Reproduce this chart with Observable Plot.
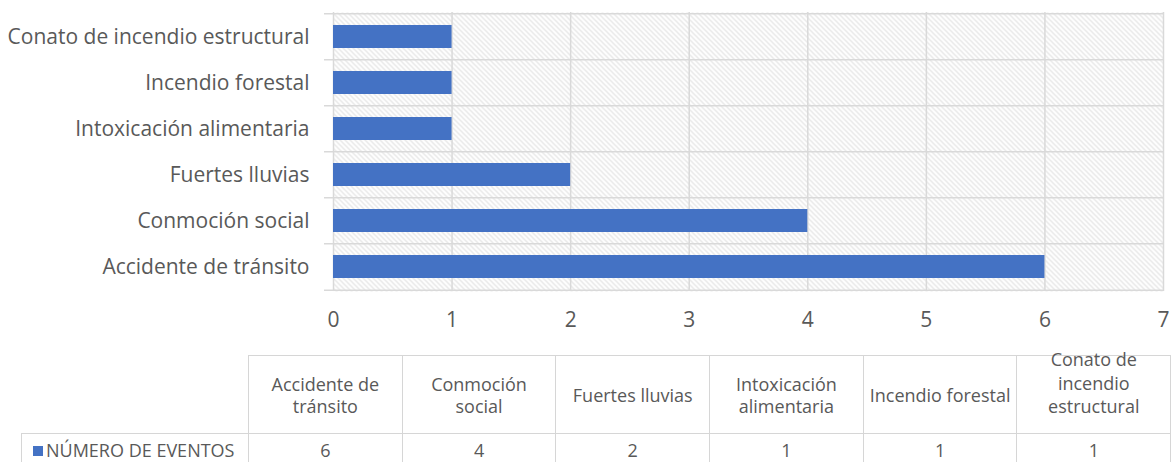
<!DOCTYPE html>
<html><head><meta charset="utf-8">
<script src="https://cdn.jsdelivr.net/npm/d3@7"></script>
<script src="https://cdn.jsdelivr.net/npm/@observablehq/plot@0.6"></script>
<style>
body{margin:0;background:#fff;font-family:"Open Sans",sans-serif;color:#595959}
#wrap{position:relative;width:1173px;height:462px;overflow:hidden}
#wrap svg{position:absolute;left:0;top:0}
table{position:absolute;left:21px;top:355px;border-collapse:collapse;table-layout:fixed;font-size:18px;color:#595959}
td{border:1.5px solid #d6d6d6;text-align:center;vertical-align:middle;padding:0;line-height:22px;white-space:nowrap;overflow:visible}
td.blank{border-top:none;border-left:none}
td.tall span{position:relative;top:-11px;display:inline-block;line-height:23.5px}
.sw{display:inline-block;width:10px;height:10px;background:#4472C4;margin-right:3px;vertical-align:1px}
</style></head><body><div id="wrap"></div>
<script>
const categories = ["Accidente de tránsito","Conmoción social","Fuertes lluvias","Intoxicación alimentaria","Incendio forestal","Conato de incendio estructural"];
const values = [6,4,2,1,1,1];
const xTicks = [0,1,2,3,4,5,6,7];
const seriesName = "NÚMERO DE EVENTOS";
const headerLines = [["Accidente de","tránsito"],["Conmoción","social"],["Fuertes lluvias"],["Intoxicación","alimentaria"],["Incendio forestal"],["Conato de","incendio","estructural"]];

const data = categories.map((c,i)=>({category:c, value:values[i]}));
const yOrder = categories.slice().reverse();
const W=1173, H=340, mT=12, mB=49, mL=333, mR=10;
const step = (H-mT-mB)/categories.length;

function defs(){
  const s = d3.create("svg:defs");
  const p = s.append("pattern").attr("id","hatch").attr("patternUnits","userSpaceOnUse").attr("width",5).attr("height",5);
  p.append("rect").attr("width",5).attr("height",5).attr("fill","#fff");
  p.append("path").attr("d","M-1,-1L6,6M-1,4L1,6M4,-1L6,1").attr("stroke","#e0e0e0").attr("stroke-width",1.2);
  return s.node();
}

const chart = Plot.plot({
  width: W, height: H, marginTop: mT, marginBottom: mB, marginLeft: mL, marginRight: mR,
  style: {fontFamily: "Open Sans, sans-serif", background: "#fff", overflow: "visible"},
  x: {domain: [0,7]},
  y: {domain: yOrder, paddingInner: 0.5, paddingOuter: 0.25},
  marks: [
    defs,
    Plot.frame({fill: "url(#hatch)", stroke: null}),
    Plot.gridX(xTicks, {stroke: "#d9d9d9", strokeOpacity: 1, strokeWidth: 1.5}),
    Plot.ruleY(yOrder, {y: d=>d, dy: -step/2, x1: -9/118.6, x2: 7, stroke: "#d9d9d9", strokeWidth: 1.5}),
    Plot.ruleY([yOrder[yOrder.length-1]], {y: d=>d, dy: step/2, x1: -9/118.6, x2: 7, stroke: "#d9d9d9", strokeWidth: 1.5}),
    Plot.barX(data, {x: "value", y: "category", fill: "#4472C4"}),
    Plot.axisX({ticks: xTicks, tickFormat: "d", tickSize: 0, tickPadding: 21, fontSize: 21, fill: "#595959", label: null}),
    Plot.axisY({tickSize: 0, tickPadding: 24, fontSize: 21, fill: "#595959", label: null})
  ]
});
const wrap = document.getElementById("wrap");
wrap.appendChild(chart);

// data table
const table = document.createElement("table");
const colg = document.createElement("colgroup");
const widths = [227, ...categories.map(()=>153.7)];
widths.forEach(w=>{const c=document.createElement("col"); c.style.width=w+"px"; colg.appendChild(c);});
table.appendChild(colg);
const tr1 = document.createElement("tr"); tr1.style.height = "78px";
const blank = document.createElement("td"); blank.className="blank"; tr1.appendChild(blank);
headerLines.forEach(lines=>{const td=document.createElement("td"); if(lines.length>2) td.className="tall"; td.innerHTML="<span>"+lines.join("<br>")+"</span>"; tr1.appendChild(td);});
const tr2 = document.createElement("tr"); tr2.style.height = "33px";
const lg = document.createElement("td"); lg.style.textAlign="left"; lg.style.paddingLeft="11px";
lg.innerHTML = '<span class="sw"></span>' + seriesName; tr2.appendChild(lg);
values.forEach(v=>{const td=document.createElement("td"); td.textContent=v; tr2.appendChild(td);});
table.appendChild(tr1); table.appendChild(tr2);
table.style.width = d3.sum(widths)+"px";
wrap.appendChild(table);
</script></body></html>
